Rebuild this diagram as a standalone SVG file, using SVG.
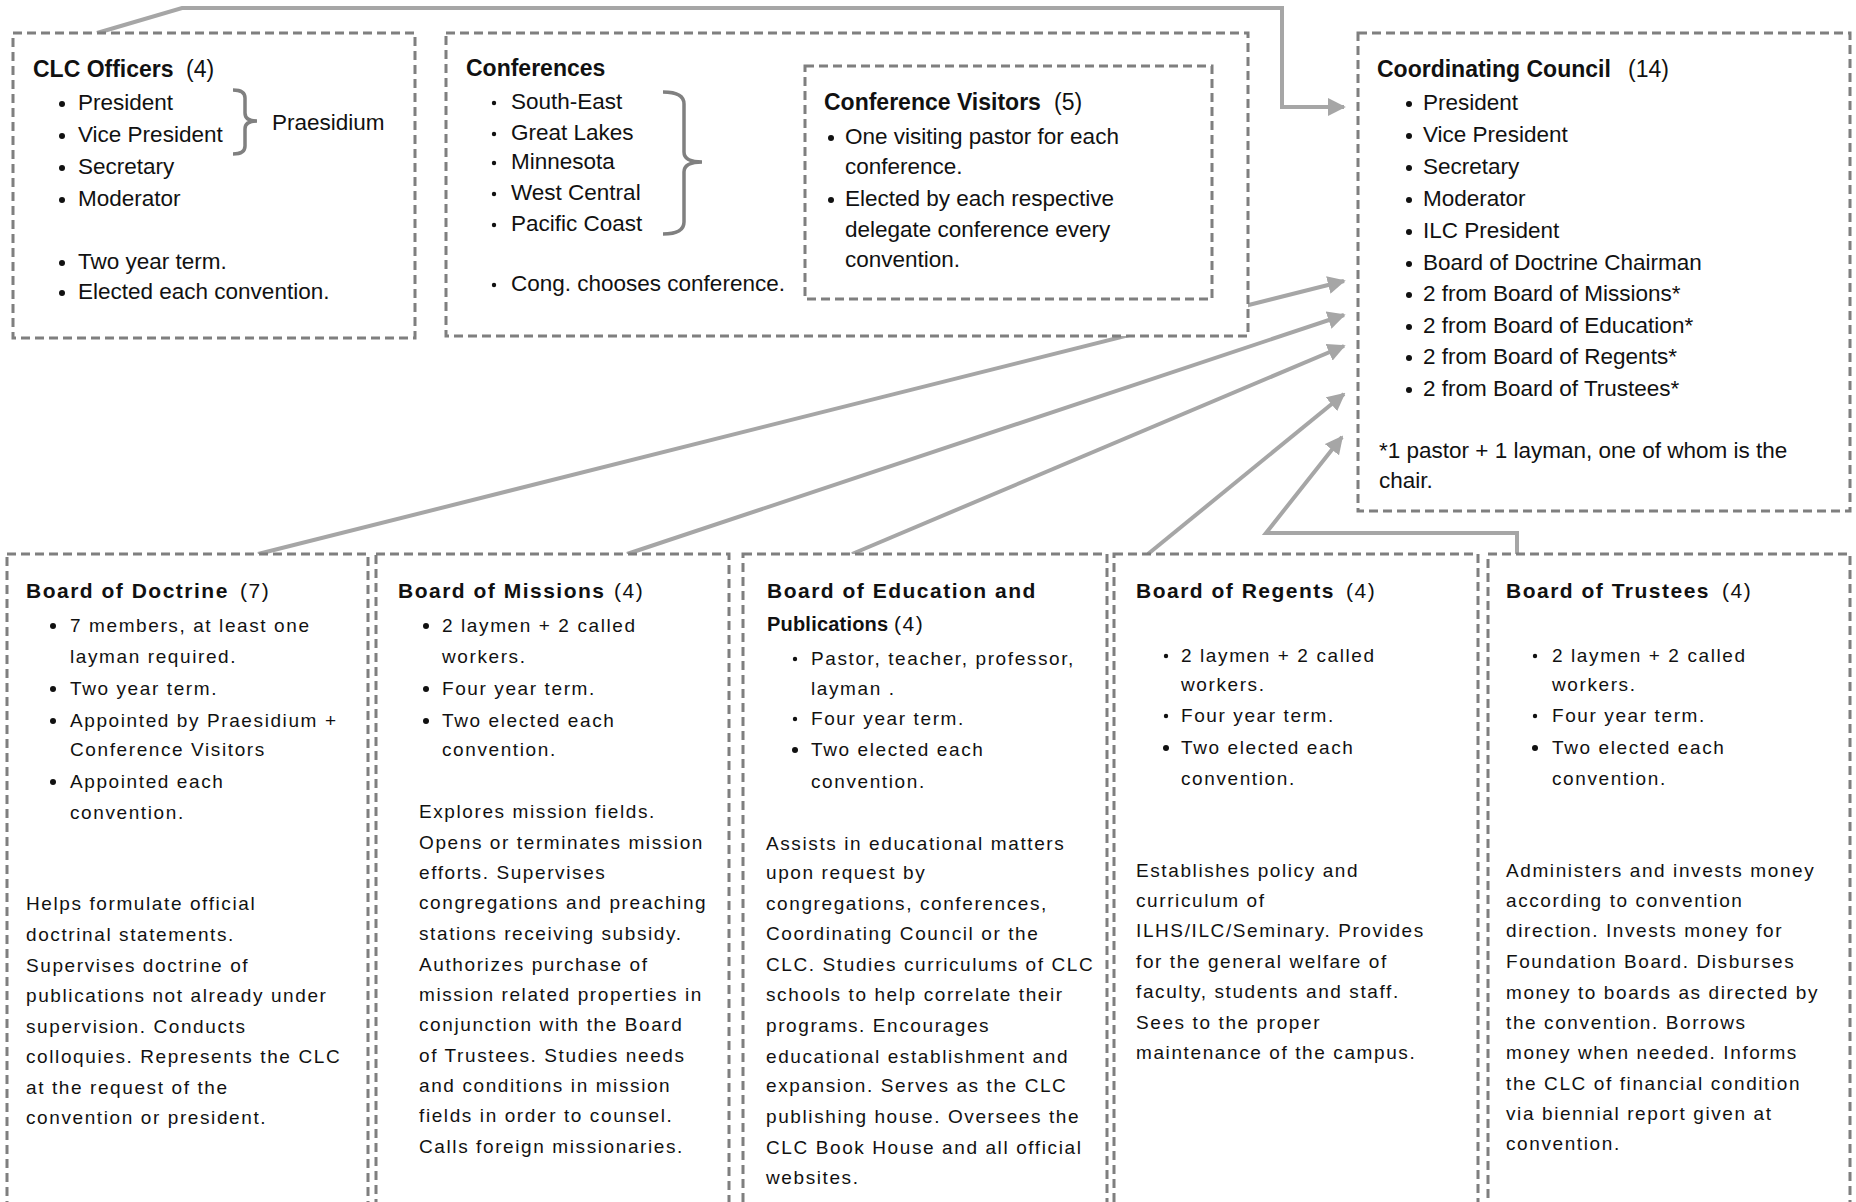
<svg xmlns="http://www.w3.org/2000/svg" width="1856" height="1202" viewBox="0 0 1856 1202">
<style>
text{font-family:"Liberation Sans",Arial,sans-serif;fill:#111}
.box{fill:#fff;stroke:#7f7f7f;stroke-width:3;stroke-dasharray:9 5}
.tt{font-size:23px;font-weight:bold}
.tn{font-weight:normal}
.tb{font-size:22.5px}
.bt{font-size:21px;font-weight:bold;letter-spacing:1.5px}
.bb{font-size:19px;letter-spacing:1.6px}
.dot{fill:#111}
.brace{fill:none;stroke:#808080;stroke-width:3.5}
.con{fill:none;stroke:#a6a6a6;stroke-width:4}
</style>
<defs>
<marker id="ah" viewBox="0 0 10 10" refX="9" refY="5" markerWidth="4.5" markerHeight="4.5" markerUnits="strokeWidth" orient="auto">
<path d="M0,0 L10,5 L0,10 z" fill="#a6a6a6"/>
</marker>
</defs>
<rect width="1856" height="1202" fill="#fff"/>

<g id="connectors">
<path class="con" marker-end="url(#ah)" d="M97,33 L182,8 L1282,8 L1282,107 L1344,107"/>
<path class="con" marker-end="url(#ah)" d="M258,554 L1344,281"/>
<path class="con" marker-end="url(#ah)" d="M627,554 L1344,315"/>
<path class="con" marker-end="url(#ah)" d="M852,554 L1344,346"/>
<path class="con" marker-end="url(#ah)" d="M1148,554 L1344,394"/>
<path class="con" marker-end="url(#ah)" d="M1517,554 L1517,533 L1266,533 L1342,437"/>
</g>

<g id="clc-officers">
<rect class="box" x="13" y="33" width="402" height="305"/>
<text class="tt" x="33" y="77">CLC Officers<tspan class="tn" x="186">(4)</tspan></text>
<circle class="dot" cx="62" cy="104" r="3"/><text class="tb" x="78" y="110">President</text>
<circle class="dot" cx="62" cy="136" r="3"/><text class="tb" x="78" y="142">Vice President</text>
<circle class="dot" cx="62" cy="168" r="3"/><text class="tb" x="78" y="174">Secretary</text>
<circle class="dot" cx="62" cy="200" r="3"/><text class="tb" x="78" y="206">Moderator</text>
<circle class="dot" cx="62" cy="263" r="3"/><text class="tb" x="78" y="269">Two year term.</text>
<circle class="dot" cx="62" cy="293" r="3"/><text class="tb" x="78" y="299">Elected each convention.</text>
<path class="brace" d="M233,90 Q245,90 245,98 L245,113 Q245,121 257,121 Q245,121 245,129 L245,146 Q245,154 233,154"/>
<text class="tb" x="272" y="130">Praesidium</text>
</g>

<g id="conferences">
<rect class="box" x="446" y="33" width="802" height="303"/>
<text class="tt" x="466" y="76">Conferences</text>
<circle class="dot" cx="494" cy="103" r="2.2"/><text class="tb" x="511" y="109">South-East</text>
<circle class="dot" cx="494" cy="134" r="2.2"/><text class="tb" x="511" y="140">Great Lakes</text>
<circle class="dot" cx="494" cy="163" r="2.2"/><text class="tb" x="511" y="169">Minnesota</text>
<circle class="dot" cx="494" cy="194" r="2.2"/><text class="tb" x="511" y="200">West Central</text>
<circle class="dot" cx="494" cy="225" r="2.2"/><text class="tb" x="511" y="231">Pacific Coast</text>
<circle class="dot" cx="494" cy="285" r="2.2"/><text class="tb" x="511" y="291">Cong. chooses conference.</text>
<path class="brace" d="M663,92 Q684,92 684,104 L684,152 Q684,162 702,162 Q684,162 684,172 L684,222 Q684,234 663,234"/>
</g>

<g id="conference-visitors">
<rect class="box" x="805" y="66" width="407" height="233"/>
<text class="tt" x="824" y="110">Conference Visitors<tspan class="tn" x="1054">(5)</tspan></text>
<circle class="dot" cx="831" cy="138" r="3"/><text class="tb" x="845" y="144">One visiting pastor for each</text>
<text class="tb" x="845" y="174">conference.</text>
<circle class="dot" cx="831" cy="200" r="3"/><text class="tb" x="845" y="206">Elected by each respective</text>
<text class="tb" x="845" y="237">delegate conference every</text>
<text class="tb" x="845" y="267">convention.</text>
</g>

<g id="coordinating-council">
<rect class="box" x="1358" y="33" width="492" height="478"/>
<text class="tt" x="1377" y="77">Coordinating Council<tspan class="tn" x="1628">(14)</tspan></text>
<circle class="dot" cx="1409" cy="104" r="3"/><text class="tb" x="1423" y="110">President</text>
<circle class="dot" cx="1409" cy="136" r="3"/><text class="tb" x="1423" y="142">Vice President</text>
<circle class="dot" cx="1409" cy="168" r="3"/><text class="tb" x="1423" y="174">Secretary</text>
<circle class="dot" cx="1409" cy="200" r="3"/><text class="tb" x="1423" y="206">Moderator</text>
<circle class="dot" cx="1409" cy="232" r="3"/><text class="tb" x="1423" y="238">ILC President</text>
<circle class="dot" cx="1409" cy="264" r="3"/><text class="tb" x="1423" y="270">Board of Doctrine Chairman</text>
<circle class="dot" cx="1409" cy="295" r="3"/><text class="tb" x="1423" y="301">2 from Board of Missions*</text>
<circle class="dot" cx="1409" cy="327" r="3"/><text class="tb" x="1423" y="333">2 from Board of Education*</text>
<circle class="dot" cx="1409" cy="358" r="3"/><text class="tb" x="1423" y="364">2 from Board of Regents*</text>
<circle class="dot" cx="1409" cy="390" r="3"/><text class="tb" x="1423" y="396">2 from Board of Trustees*</text>
<text class="tb" x="1379" y="458">*1 pastor + 1 layman, one of whom is the</text>
<text class="tb" x="1379" y="488">chair.</text>
</g>

<g id="board-of-doctrine">
<rect class="box" x="7" y="554" width="361" height="660"/>
<text class="bt" x="26" y="598">Board of Doctrine<tspan class="tn" x="240">(7)</tspan></text>
<circle class="dot" cx="53" cy="626" r="3"/><text class="bb" x="70" y="632">7 members, at least one</text>
<text class="bb" x="70" y="663">layman required.</text>
<circle class="dot" cx="53" cy="689" r="3"/><text class="bb" x="70" y="695">Two year term.</text>
<circle class="dot" cx="53" cy="721" r="3"/><text class="bb" x="70" y="727">Appointed by Praesidium +</text>
<text class="bb" x="70" y="756">Conference Visitors</text>
<circle class="dot" cx="53" cy="782" r="3"/><text class="bb" x="70" y="788">Appointed each</text>
<text class="bb" x="70" y="819">convention.</text>
<text class="bb" x="26" y="910">Helps formulate official</text>
<text class="bb" x="26" y="941">doctrinal statements.</text>
<text class="bb" x="26" y="972">Supervises doctrine of</text>
<text class="bb" x="26" y="1002">publications not already under</text>
<text class="bb" x="26" y="1033">supervision. Conducts</text>
<text class="bb" x="26" y="1063">colloquies. Represents the CLC</text>
<text class="bb" x="26" y="1094">at the request of the</text>
<text class="bb" x="26" y="1124">convention or president.</text>
</g>

<g id="board-of-missions">
<rect class="box" x="376" y="554" width="353" height="660"/>
<text class="bt" x="398" y="598">Board of Missions<tspan class="tn" x="614">(4)</tspan></text>
<circle class="dot" cx="426" cy="626" r="3"/><text class="bb" x="442" y="632">2 laymen + 2 called</text>
<text class="bb" x="442" y="663">workers.</text>
<circle class="dot" cx="426" cy="689" r="3"/><text class="bb" x="442" y="695">Four year term.</text>
<circle class="dot" cx="426" cy="721" r="3"/><text class="bb" x="442" y="727">Two elected each</text>
<text class="bb" x="442" y="756">convention.</text>
<text class="bb" x="419" y="818">Explores mission fields.</text>
<text class="bb" x="419" y="849">Opens or terminates mission</text>
<text class="bb" x="419" y="879">efforts. Supervises</text>
<text class="bb" x="419" y="909">congregations and preaching</text>
<text class="bb" x="419" y="940">stations receiving subsidy.</text>
<text class="bb" x="419" y="971">Authorizes purchase of</text>
<text class="bb" x="419" y="1001">mission related properties in</text>
<text class="bb" x="419" y="1031">conjunction with the Board</text>
<text class="bb" x="419" y="1062">of Trustees. Studies needs</text>
<text class="bb" x="419" y="1092">and conditions in mission</text>
<text class="bb" x="419" y="1122">fields in order to counsel.</text>
<text class="bb" x="419" y="1153">Calls foreign missionaries.</text>
</g>

<g id="board-of-education">
<rect class="box" x="743" y="554" width="364" height="660"/>
<text class="bt" x="767" y="598">Board of Education and</text>
<text class="bt" x="767" y="631" style="letter-spacing:0.2px;font-size:20px">Publications</text>
<text class="bt" x="894" y="631" style="font-weight:normal">(4)</text>
<circle class="dot" cx="795" cy="659" r="2.2"/><text class="bb" x="811" y="665">Pastor, teacher, professor,</text>
<text class="bb" x="811" y="695">layman .</text>
<circle class="dot" cx="795" cy="719" r="2.2"/><text class="bb" x="811" y="725">Four year term.</text>
<circle class="dot" cx="795" cy="750" r="3"/><text class="bb" x="811" y="756">Two elected each</text>
<text class="bb" x="811" y="788">convention.</text>
<text class="bb" x="766" y="850">Assists in educational matters</text>
<text class="bb" x="766" y="879">upon request by</text>
<text class="bb" x="766" y="910">congregations, conferences,</text>
<text class="bb" x="766" y="940">Coordinating Council or the</text>
<text class="bb" x="766" y="971">CLC. Studies curriculums of CLC</text>
<text class="bb" x="766" y="1001">schools to help correlate their</text>
<text class="bb" x="766" y="1032">programs. Encourages</text>
<text class="bb" x="766" y="1063">educational establishment and</text>
<text class="bb" x="766" y="1092">expansion. Serves as the CLC</text>
<text class="bb" x="766" y="1123">publishing house. Oversees the</text>
<text class="bb" x="766" y="1154">CLC Book House and all official</text>
<text class="bb" x="766" y="1184">websites.</text>
</g>

<g id="board-of-regents">
<rect class="box" x="1114" y="554" width="364" height="660"/>
<text class="bt" x="1136" y="598">Board of Regents<tspan class="tn" x="1346">(4)</tspan></text>
<circle class="dot" cx="1166" cy="656" r="2.2"/><text class="bb" x="1181" y="662">2 laymen + 2 called</text>
<text class="bb" x="1181" y="691">workers.</text>
<circle class="dot" cx="1166" cy="716" r="2.2"/><text class="bb" x="1181" y="722">Four year term.</text>
<circle class="dot" cx="1166" cy="748" r="3"/><text class="bb" x="1181" y="754">Two elected each</text>
<text class="bb" x="1181" y="785">convention.</text>
<text class="bb" x="1136" y="877">Establishes policy and</text>
<text class="bb" x="1136" y="907">curriculum of</text>
<text class="bb" x="1136" y="937">ILHS/ILC/Seminary. Provides</text>
<text class="bb" x="1136" y="968">for the general welfare of</text>
<text class="bb" x="1136" y="998">faculty, students and staff.</text>
<text class="bb" x="1136" y="1029">Sees to the proper</text>
<text class="bb" x="1136" y="1059">maintenance of the campus.</text>
</g>

<g id="board-of-trustees">
<rect class="box" x="1488" y="554" width="362" height="660"/>
<text class="bt" x="1506" y="598">Board of Trustees<tspan class="tn" x="1722">(4)</tspan></text>
<circle class="dot" cx="1535" cy="656" r="2.2"/><text class="bb" x="1552" y="662">2 laymen + 2 called</text>
<text class="bb" x="1552" y="691">workers.</text>
<circle class="dot" cx="1535" cy="716" r="2.2"/><text class="bb" x="1552" y="722">Four year term.</text>
<circle class="dot" cx="1535" cy="748" r="3"/><text class="bb" x="1552" y="754">Two elected each</text>
<text class="bb" x="1552" y="785">convention.</text>
<text class="bb" x="1506" y="877">Administers and invests money</text>
<text class="bb" x="1506" y="907">according to convention</text>
<text class="bb" x="1506" y="937">direction. Invests money for</text>
<text class="bb" x="1506" y="968">Foundation Board. Disburses</text>
<text class="bb" x="1506" y="999">money to boards as directed by</text>
<text class="bb" x="1506" y="1029">the convention. Borrows</text>
<text class="bb" x="1506" y="1059">money when needed. Informs</text>
<text class="bb" x="1506" y="1090">the CLC of financial condition</text>
<text class="bb" x="1506" y="1120">via biennial report given at</text>
<text class="bb" x="1506" y="1150">convention.</text>
</g>
</svg>
